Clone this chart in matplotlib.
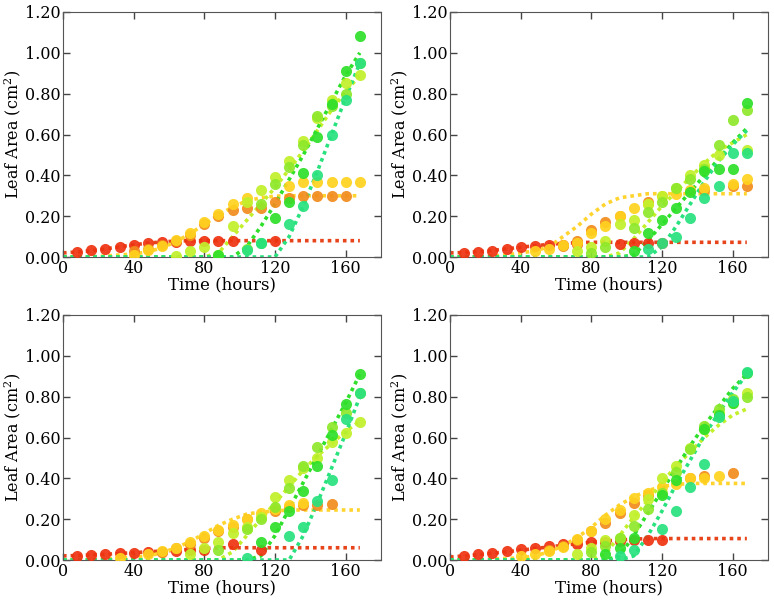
import numpy as np
import matplotlib
matplotlib.use('Agg')
import matplotlib.pyplot as plt

nan = np.nan

# sampling times (hours) for points and fitted curves
times = [8, 16, 24, 32, 40, 48, 56, 64, 72, 80, 88, 96, 104, 112, 120, 128, 136, 144, 152, 160, 168]
fit_times = [0] + times

leaf_colors = ['#ee3311', '#f28c1c', '#ffd21e', '#c2f02a', '#8ee82a', '#2ee02a', '#28e27e']

# ---- panel A (top left) ----
a_red = [0.025, 0.035, 0.04, 0.05, 0.06, 0.07, 0.072, 0.075, 0.078, 0.08, 0.08, 0.08, nan, nan, 0.08, nan, nan, nan, nan, nan, nan]
a_orange = [nan, nan, nan, nan, 0.03, 0.04, 0.06, 0.08, 0.11, 0.16, 0.2, 0.23, 0.24, 0.24, 0.27, 0.29, 0.30, 0.30, 0.30, 0.30, nan]
a_yellow = [nan, nan, nan, nan, 0.01, 0.035, 0.055, 0.085, 0.12, 0.17, 0.21, 0.26, 0.29, nan, nan, 0.35, 0.365, 0.365, 0.365, 0.365, 0.365]
a_ygreen = [nan, nan, nan, nan, nan, nan, nan, 0.005, 0.03, 0.05, 0.01, 0.15, 0.27, 0.33, 0.39, 0.47, 0.57, 0.68, 0.77, 0.85, 0.89]
a_lgreen = [nan, nan, nan, nan, nan, nan, nan, nan, nan, nan, nan, nan, 0.04, 0.26, 0.36, 0.44, 0.55, 0.69, 0.74, 0.80, 0.95]
a_green = [nan, nan, nan, nan, nan, nan, nan, nan, nan, nan, 0.01, nan, nan, 0.07, 0.19, 0.27, 0.41, 0.59, 0.75, 0.91, 1.08]
a_sgreen = [nan, nan, nan, nan, nan, nan, nan, nan, nan, nan, nan, nan, 0.035, 0.07, nan, 0.16, 0.25, 0.40, 0.60, 0.77, 0.95]
a_red_fit = [0.02, 0.025, 0.03, 0.04, 0.05, 0.06, 0.068, 0.074, 0.078, 0.08, 0.08, 0.08, 0.08, 0.08, 0.08, 0.08, 0.08, 0.08, 0.08, 0.08, 0.08, 0.08]
a_yellow_fit = [0.0, 0.0, 0.0, 0.005, 0.01, 0.015, 0.025, 0.045, 0.075, 0.115, 0.16, 0.205, 0.245, 0.275, 0.29, 0.298, 0.30, 0.30, 0.30, 0.30, 0.30, 0.30]
a_ygreen_fit = [0, 0, 0, 0, 0, 0, 0, 0, 0, 0, 0, 0.02, 0.1, 0.18, 0.26, 0.34, 0.43, 0.52, 0.62, 0.72, 0.81, 0.89]
a_green_fit = [0, 0, 0, 0, 0, 0, 0, 0, 0, 0, 0, 0, 0, 0.05, 0.15, 0.26, 0.38, 0.50, 0.63, 0.76, 0.89, 1.0]
a_sgreen_fit = [0, 0, 0, 0, 0, 0, 0, 0, 0, 0, 0, 0, 0, 0, 0, 0.0, 0.1, 0.25, 0.42, 0.60, 0.78, 0.95]

# ---- panel B (top right) ----
b_red = [0.02, 0.025, 0.03, 0.04, 0.05, 0.055, 0.06, 0.06, 0.065, nan, nan, 0.065, 0.07, 0.07, 0.07, nan, nan, nan, nan, nan, nan]
b_orange = [nan, nan, nan, nan, nan, nan, nan, 0.055, 0.08, 0.13, 0.17, 0.2, nan, 0.27, nan, nan, nan, 0.33, nan, 0.35, 0.35]
b_yellow = [nan, nan, nan, nan, nan, 0.03, 0.04, 0.06, 0.07, 0.12, 0.15, 0.2, 0.24, 0.26, 0.30, 0.31, 0.33, 0.34, nan, 0.36, 0.38]
b_ygreen = [nan, nan, nan, nan, nan, nan, nan, nan, 0.03, 0.05, 0.08, 0.16, 0.18, 0.26, 0.30, 0.34, 0.40, 0.45, 0.50, nan, 0.525]
b_lgreen = [nan, nan, nan, nan, nan, nan, nan, nan, nan, 0.02, 0.05, nan, 0.14, 0.22, 0.27, 0.34, 0.38, 0.43, 0.55, 0.67, 0.72]
b_green = [nan, nan, nan, nan, nan, nan, nan, nan, nan, nan, nan, nan, 0.03, 0.12, 0.18, 0.24, 0.32, 0.42, 0.43, 0.43, 0.755]
b_sgreen = [nan, nan, nan, nan, nan, nan, nan, nan, nan, nan, nan, nan, nan, 0.04, 0.07, 0.10, 0.19, 0.29, 0.35, 0.51, 0.51]
b_red_fit = [0.02, 0.022, 0.026, 0.032, 0.04, 0.048, 0.055, 0.062, 0.067, 0.07, 0.072, 0.072, 0.072, 0.072, 0.072, 0.072, 0.072, 0.072, 0.072, 0.072, 0.072, 0.072]
b_yellow_fit = [0.0, 0.0, 0.0, 0.005, 0.01, 0.02, 0.03, 0.05, 0.1, 0.15, 0.21, 0.26, 0.29, 0.30, 0.31, 0.31, 0.31, 0.31, 0.31, 0.31, 0.31, 0.31]
b_ygreen_fit = [0, 0, 0, 0, 0, 0, 0, 0, 0, 0, 0, 0.0, 0.02, 0.09, 0.17, 0.25, 0.32, 0.39, 0.46, 0.52, 0.56, 0.60]
b_green_fit = [0, 0, 0, 0, 0, 0, 0, 0, 0, 0, 0, 0, 0.0, 0.01, 0.08, 0.16, 0.24, 0.32, 0.40, 0.48, 0.56, 0.63]
b_sgreen_fit = [0, 0, 0, 0, 0, 0, 0, 0, 0, 0, 0, 0, 0, 0, 0.0, 0.05, 0.15, 0.26, 0.37, 0.47, 0.55, 0.62]

# ---- panel C (bottom left) ----
c_red = [0.02, 0.025, 0.03, 0.035, 0.035, 0.04, 0.04, 0.045, 0.05, 0.05, nan, 0.08, nan, 0.05, nan, nan, nan, nan, nan, nan, nan]
c_orange = [nan, nan, nan, nan, nan, nan, 0.04, 0.06, 0.08, 0.11, 0.14, 0.16, 0.20, nan, 0.24, 0.26, 0.27, 0.27, 0.275, nan, nan]
c_yellow = [nan, nan, nan, 0.01, nan, 0.03, 0.045, 0.06, 0.09, 0.12, 0.145, 0.17, 0.20, 0.23, 0.25, 0.27, 0.28, nan, nan, nan, nan]
c_ygreen = [nan, nan, nan, nan, nan, nan, nan, nan, 0.03, 0.06, 0.09, 0.13, 0.16, 0.21, 0.31, 0.39, 0.45, 0.50, 0.58, 0.62, 0.675]
c_lgreen = [nan, nan, nan, nan, nan, nan, nan, nan, nan, nan, 0.05, nan, 0.15, 0.20, 0.26, 0.355, 0.46, 0.555, 0.65, 0.72, 0.82]
c_green = [nan, nan, nan, nan, nan, nan, nan, nan, nan, nan, nan, nan, nan, 0.09, 0.16, 0.24, 0.34, 0.46, 0.61, 0.765, 0.91]
c_sgreen = [nan, nan, nan, nan, nan, nan, nan, nan, nan, nan, nan, nan, 0.01, nan, nan, 0.12, 0.16, 0.29, 0.39, 0.69, 0.82]
c_red_fit = [0.02, 0.022, 0.025, 0.028, 0.032, 0.036, 0.04, 0.044, 0.048, 0.052, 0.056, 0.06, 0.06, 0.06, 0.06, 0.06, 0.06, 0.06, 0.06, 0.06, 0.06, 0.06]
c_yellow_fit = [0.0, 0.0, 0.0, 0.005, 0.01, 0.015, 0.02, 0.035, 0.06, 0.09, 0.13, 0.17, 0.20, 0.225, 0.235, 0.24, 0.245, 0.245, 0.245, 0.245, 0.245, 0.245]
c_ygreen_fit = [0, 0, 0, 0, 0, 0, 0, 0, 0, 0, 0, 0.0, 0.04, 0.12, 0.20, 0.28, 0.36, 0.44, 0.51, 0.57, 0.63, 0.68]
c_green_fit = [0, 0, 0, 0, 0, 0, 0, 0, 0, 0, 0, 0, 0, 0, 0.02, 0.12, 0.25, 0.38, 0.51, 0.64, 0.77, 0.91]
c_sgreen_fit = [0, 0, 0, 0, 0, 0, 0, 0, 0, 0, 0, 0, 0, 0, 0, 0, 0.0, 0.12, 0.28, 0.45, 0.62, 0.80]

# ---- panel D (bottom right) ----
d_red = [0.02, 0.03, 0.035, 0.045, 0.055, 0.06, 0.07, 0.08, 0.08, 0.09, 0.09, 0.095, 0.10, 0.10, 0.10, nan, nan, nan, nan, nan, nan]
d_orange = [nan, nan, nan, nan, nan, nan, 0.05, 0.07, 0.10, 0.14, 0.18, 0.23, 0.28, 0.32, nan, nan, 0.40, 0.41, nan, 0.425, nan]
d_yellow = [nan, nan, nan, nan, 0.02, 0.03, 0.045, 0.065, 0.105, 0.14, 0.20, 0.245, 0.305, 0.33, 0.36, 0.37, 0.40, 0.40, 0.41, nan, nan]
d_ygreen = [nan, nan, nan, nan, nan, nan, nan, nan, 0.03, 0.06, 0.10, 0.11, 0.22, 0.30, 0.40, 0.46, 0.55, 0.64, 0.72, 0.77, 0.82]
d_lgreen = [nan, nan, nan, nan, nan, nan, nan, nan, nan, 0.04, 0.07, 0.11, 0.165, 0.25, 0.33, 0.43, 0.545, 0.655, 0.74, 0.79, 0.80]
d_green = [nan, nan, nan, nan, nan, nan, nan, nan, nan, nan, 0.03, 0.06, 0.11, nan, 0.32, 0.39, nan, 0.64, 0.71, 0.77, 0.915]
d_sgreen = [nan, nan, nan, nan, nan, nan, nan, nan, nan, nan, nan, 0.02, 0.05, nan, 0.15, 0.24, 0.36, 0.47, 0.70, 0.78, 0.92]
d_red_fit = [0.015, 0.02, 0.026, 0.033, 0.04, 0.048, 0.056, 0.064, 0.072, 0.08, 0.087, 0.093, 0.098, 0.102, 0.105, 0.105, 0.105, 0.105, 0.105, 0.105, 0.105, 0.105]
d_yellow_fit = [0.0, 0.0, 0.0, 0.005, 0.008, 0.01, 0.02, 0.04, 0.07, 0.11, 0.16, 0.22, 0.27, 0.31, 0.34, 0.36, 0.37, 0.375, 0.375, 0.375, 0.375, 0.375]
d_ygreen_fit = [0, 0, 0, 0, 0, 0, 0, 0, 0, 0, 0, 0.03, 0.12, 0.21, 0.29, 0.38, 0.46, 0.53, 0.60, 0.66, 0.71, 0.74]
d_green_fit = [0, 0, 0, 0, 0, 0, 0, 0, 0, 0, 0, 0, 0.02, 0.12, 0.23, 0.34, 0.45, 0.56, 0.66, 0.75, 0.84, 0.91]
d_sgreen_fit = [0, 0, 0, 0, 0, 0, 0, 0, 0, 0, 0, 0, 0, 0.02, 0.12, 0.24, 0.37, 0.49, 0.61, 0.72, 0.82, 0.91]

panels = [
    ([a_red, a_orange, a_yellow, a_ygreen, a_lgreen, a_green, a_sgreen],
     [a_red_fit, a_yellow_fit, a_ygreen_fit, a_green_fit, a_sgreen_fit]),
    ([b_red, b_orange, b_yellow, b_ygreen, b_lgreen, b_green, b_sgreen],
     [b_red_fit, b_yellow_fit, b_ygreen_fit, b_green_fit, b_sgreen_fit]),
    ([c_red, c_orange, c_yellow, c_ygreen, c_lgreen, c_green, c_sgreen],
     [c_red_fit, c_yellow_fit, c_ygreen_fit, c_green_fit, c_sgreen_fit]),
    ([d_red, d_orange, d_yellow, d_ygreen, d_lgreen, d_green, d_sgreen],
     [d_red_fit, d_yellow_fit, d_ygreen_fit, d_green_fit, d_sgreen_fit]),
]
fit_colors = ['#e8441c', '#ffd42e', '#c2f02a', '#2ee02a', '#28e27e']

plt.rcParams['font.family'] = ['DejaVu Serif']
plt.rcParams['mathtext.fontset'] = 'dejavuserif'

fig = plt.figure(figsize=(7.74, 6.06), dpi=100)
lefts = [0.0814, 0.5814, 0.0814, 0.5814]
bottoms = [0.5759, 0.5759, 0.0759, 0.0759]

for k, (pts, fits) in enumerate(panels):
    ax = fig.add_axes([lefts[k], bottoms[k], 0.4109, 0.4043])
    # fitted curves first, points on top
    for fv, fc in zip(fits, fit_colors):
        ax.plot(fit_times, fv, color=fc, lw=2.6, linestyle=(0, (1, 1.1)), zorder=2)
    for yv, c in zip(pts, leaf_colors):
        ax.plot(times, yv, 'o', color=c, markersize=8, markeredgewidth=0, alpha=0.92, zorder=3)
    ax.set_xlim(0, 180)
    ax.set_ylim(0, 1.2)
    ax.set_xticks([0, 40, 80, 120, 160])
    ax.set_yticks([0, 0.2, 0.4, 0.6, 0.8, 1.0, 1.2])
    ax.set_yticklabels(['%.2f' % v for v in [0, 0.2, 0.4, 0.6, 0.8, 1.0, 1.2]])
    ax.tick_params(direction='in', top=True, right=True, length=5, width=1, colors='#444444', labelcolor='black', labelsize=11.5, pad=2)
    for s in ax.spines.values():
        s.set_color('#555555')
    ax.set_xlabel('Time (hours)', fontsize=12, labelpad=0)
    ax.set_ylabel('Leaf Area (cm$^2$)', fontsize=11.5, labelpad=1)

fig.savefig('out.png', dpi=100)
